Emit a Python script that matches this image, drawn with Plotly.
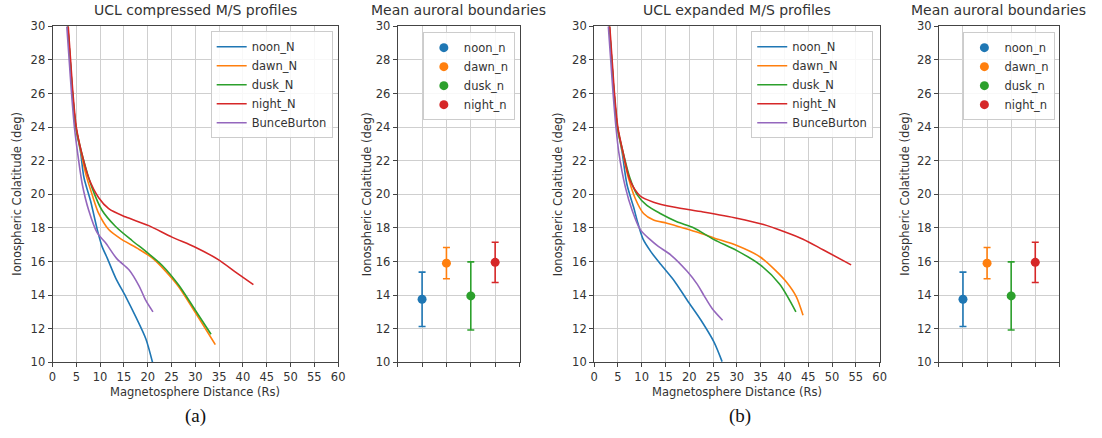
import plotly.graph_objects as go

# ---------------- data ----------------
series_names = ["noon_N", "dawn_N", "dusk_N", "night_N", "BunceBurton"]
colors = ["#1f77b4", "#ff7f0e", "#2ca02c", "#d62728", "#9467bd"]

# (a) compressed magnetosphere
comp_noon_x = [3.2, 3.7, 4.2, 4.9, 5.9, 6.6, 8.0, 9.4, 10.4, 11.5, 13.3, 15.4, 17.5, 19.6, 21.0]
comp_noon_y = [30, 28, 26, 24, 22.5, 21.0, 19.6, 17.9, 16.9, 16.2, 15.0, 13.9, 12.7, 11.4, 10.0]
comp_dawn_x = [3.2, 3.7, 4.2, 4.9, 6.0, 7.0, 8.3, 9.7, 11.8, 14.6, 18.1, 21.0, 23.5, 26.5, 30.0, 34.2]
comp_dawn_y = [30, 28, 26, 24, 22.5, 21.2, 20.0, 18.86, 17.9, 17.3, 16.74, 16.2, 15.5, 14.5, 12.96, 11.05]
comp_dusk_x = [3.2, 3.7, 4.2, 4.9, 6.1, 8.3, 10.4, 13.2, 16.7, 19.6, 23.1, 26.5, 30.0, 33.3]
comp_dusk_y = [30, 28, 26, 24, 22.5, 20.4, 19.05, 18.1, 17.25, 16.6, 15.75, 14.6, 13.1, 11.67]
comp_night_x = [3.3, 3.8, 4.3, 5.0, 6.1, 7.6, 9.7, 11.8, 15.3, 20.1, 25.1, 30.0, 34.9, 38.3, 42.2]
comp_night_y = [30, 28, 26, 24, 22.5, 20.97, 19.8, 19.15, 18.66, 18.15, 17.45, 16.85, 16.1, 15.4, 14.62]
comp_bb_x = [3.0, 3.5, 4.0, 4.6, 5.4, 6.25, 7.6, 9.4, 11.1, 13.5, 16.1, 18.2, 19.6, 21.1]
comp_bb_y = [30, 28, 26, 24, 22.2, 20.6, 19.05, 17.7, 17.13, 16.17, 15.5, 14.54, 13.68, 13.0]

# (b) expanded magnetosphere
exp_noon_x = [3.2, 3.7, 4.2, 4.9, 5.9, 6.9, 8.3, 9.2, 10.3, 12.0, 14.1, 16.9, 19.6, 22.4, 25.2, 26.9]
exp_noon_y = [30, 28, 26, 24, 22.5, 20.6, 19.24, 18.29, 17.33, 16.56, 15.8, 14.83, 13.68, 12.53, 11.2, 10.04]
exp_dawn_x = [3.2, 3.7, 4.2, 4.9, 6.0, 7.2, 8.7, 10.4, 12.5, 15.3, 18.75, 22.2, 25.2, 30.0, 34.9, 38.0, 40.5, 42.5, 43.9]
exp_dawn_y = [30, 28, 26, 24, 22.5, 21.0, 19.72, 18.86, 18.47, 18.28, 18.0, 17.7, 17.4, 16.95, 16.27, 15.5, 14.75, 13.9, 12.8]
exp_dusk_x = [3.2, 3.7, 4.2, 4.9, 6.1, 7.5, 9.0, 11.1, 13.9, 17.4, 21.0, 25.2, 30.0, 34.9, 39.0, 42.4]
exp_dusk_y = [30, 28, 26, 24, 22.5, 21.0, 20.0, 19.34, 18.86, 18.37, 18.0, 17.3, 16.65, 15.8, 14.64, 13.0]
exp_night_x = [3.3, 3.8, 4.3, 5.0, 6.1, 7.6, 9.7, 12.5, 16.7, 22.9, 30.0, 35.6, 39.7, 43.9, 48.1, 54.0]
exp_night_y = [30, 28, 26, 24, 22.5, 20.8, 19.9, 19.53, 19.24, 18.95, 18.58, 18.2, 17.8, 17.33, 16.7, 15.8]
exp_bb_x = [3.0, 3.5, 4.0, 4.6, 5.2, 6.6, 8.0, 9.7, 11.8, 13.5, 16.2, 19.6, 21.7, 23.1, 24.8, 27.0]
exp_bb_y = [30, 28, 26, 24, 22.5, 20.4, 19.05, 17.9, 17.3, 16.9, 16.37, 15.4, 14.64, 13.97, 13.2, 12.5]

# mean auroral boundaries
boundary_names = ["noon_n", "dawn_n", "dusk_n", "night_n"]
boundary_pos = [0, 1, 2, 3]
boundary_mean = [13.75, 15.9, 13.95, 15.95]
boundary_err = [1.62, 0.93, 2.03, 1.2]

x_ticks = list(range(0, 61, 5))
y_ticks = list(range(10, 31, 2))

# ---------------- figure ----------------
W, H = 1102, 438
TXT = "#333333"
GRID = "#cfcfcf"
FRAME = "#444444"
FONT = "DejaVu Sans"

def px_x(p):
    return p / W

def px_y(p):
    return 1 - p / H

fig = go.Figure()

comp = [(comp_noon_x, comp_noon_y), (comp_dawn_x, comp_dawn_y), (comp_dusk_x, comp_dusk_y),
        (comp_night_x, comp_night_y), (comp_bb_x, comp_bb_y)]
expd = [(exp_noon_x, exp_noon_y), (exp_dawn_x, exp_dawn_y), (exp_dusk_x, exp_dusk_y),
        (exp_night_x, exp_night_y), (exp_bb_x, exp_bb_y)]

for (xs, ys), name, c in zip(comp, series_names, colors):
    fig.add_trace(go.Scatter(x=xs, y=ys, mode="lines", name=name, xaxis="x", yaxis="y",
                             line=dict(color=c, width=1.6, shape="spline", smoothing=0.8),
                             legend="legend"))
for (xs, ys), name, c in zip(expd, series_names, colors):
    fig.add_trace(go.Scatter(x=xs, y=ys, mode="lines", name=name, xaxis="x3", yaxis="y3",
                             line=dict(color=c, width=1.6, shape="spline", smoothing=0.8),
                             legend="legend3"))
for ax, lg in (("2", "legend2"), ("4", "legend4")):
    for i, name in enumerate(boundary_names):
        fig.add_trace(go.Scatter(
            x=[boundary_pos[i]], y=[boundary_mean[i]], mode="markers", name=name,
            xaxis="x" + ax, yaxis="y" + ax, legend=lg,
            marker=dict(color=colors[i], size=9),
            error_y=dict(type="data", array=[boundary_err[i]], color=colors[i],
                         thickness=1.6, width=3.5)))

domains = {
    "1": (49, 337.5),
    "2": (397.7, 520.7),
    "3": (596, 884.5),
    "4": (944.3, 1066),
}
ydom = [px_y(367), px_y(20)]

common_axis = dict(showline=True, mirror=True, linecolor=FRAME, linewidth=1,
                   showgrid=True, gridcolor=GRID, gridwidth=1.3, zeroline=False,
                   ticks="outside", ticklen=4, tickcolor=FRAME,
                   tickfont=dict(family=FONT, size=11.5, color=TXT))

layout = dict(width=W, height=H, margin=dict(l=0, r=0, t=0, b=0),
              paper_bgcolor="white", plot_bgcolor="white",
              font=dict(family=FONT, color=TXT))

for k, (a, b) in domains.items():
    xk = "xaxis" if k == "1" else "xaxis" + k
    yk = "yaxis" if k == "1" else "yaxis" + k
    yref = "y" if k == "1" else "y" + k
    xref = "x" if k == "1" else "x" + k
    if k in ("1", "3"):
        xa = dict(common_axis, domain=[px_x(a), px_x(b)], range=[0, 60], tickvals=x_ticks,
                  anchor=yref)
    else:
        xa = dict(common_axis, domain=[px_x(a), px_x(b)], range=[-1, 4],
                  tickvals=[-1, 0, 1, 2, 3, 4], showticklabels=False, anchor=yref)
    ya = dict(common_axis, domain=ydom, range=[10, 30], tickvals=y_ticks, anchor=xref)
    layout[xk] = xa
    layout[yk] = ya

leg_common = dict(bgcolor="rgba(255,255,255,0.85)", bordercolor="#cccccc", borderwidth=1,
                  font=dict(family=FONT, size=11.5, color=TXT), xanchor="right", yanchor="top",
                  tracegroupgap=0, itemwidth=30)
layout["legend"] = dict(leg_common, x=px_x(332), y=px_y(25))
layout["legend2"] = dict(leg_common, x=px_x(516), y=px_y(26))
layout["legend3"] = dict(leg_common, x=px_x(878), y=px_y(25))
layout["legend4"] = dict(leg_common, x=px_x(1062), y=px_y(26))

fig.update_layout(**layout)

ann = []
def text(x, y, s, size, angle=0, family=FONT, color=TXT, yanchor="middle"):
    ann.append(dict(x=px_x(x), y=px_y(y), xref="paper", yref="paper", text=s,
                    showarrow=False, xanchor="center", yanchor=yanchor, textangle=angle,
                    borderpad=0,
                    font=dict(family=family, size=size, color=color)))

for xc, s in ((193, "UCL compressed M/S profiles"), (459, "Mean auroral boundaries"),
              (740, "UCL expanded M/S profiles"), (1005, "Mean auroral boundaries")):
    text(xc, 12.5, s, 14, yanchor="bottom")
for xc in (13, 366, 559, 910):
    text(xc, 193, "Ionospheric Colatitude (deg)", 11.5, angle=-90)
text(193, 398, "Magnetosphere Distance (Rs)", 11.5)
text(740, 398, "Magnetosphere Distance (Rs)", 11.5)
text(193, 422, "(a)", 19, family="Liberation Serif", color="#111111")
text(743, 422, "(b)", 19, family="Liberation Serif", color="#111111")
fig.update_layout(annotations=ann)

fig.write_html("out.html")
